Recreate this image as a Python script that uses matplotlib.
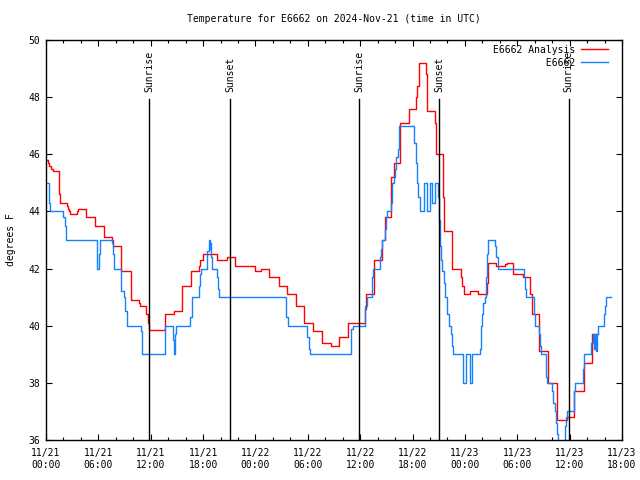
import numpy
import matplotlib
matplotlib.use("Agg")
import matplotlib.pyplot as plt
import matplotlib.transforms as mtransforms

# hours since 2024-11-21 00:00 UTC, temperature in F (step data)
analysisHours = [0.0, 0.2, 0.4, 0.6, 0.8, 1.5, 1.6, 2.4, 2.5, 2.6, 2.75, 3.55, 3.7, 4.55, 5.65,
	6.7, 7.55, 7.7, 8.6, 9.7, 10.6, 10.75, 11.45, 11.65, 11.75, 13.65, 14.65, 15.6, 16.6, 17.5,
	17.7, 18.0, 19.6, 20.7, 21.6, 23.9, 24.6, 25.6, 26.65, 27.65, 28.6, 29.6, 30.65, 31.65,
	32.6, 33.6, 34.65, 36.6, 36.7, 37.6, 38.45, 38.85, 39.5, 39.9, 40.6, 41.55, 42.35, 42.5,
	42.7, 43.5, 43.6, 44.6, 44.7, 45.5, 45.65, 46.55, 47.5, 47.7, 47.85, 48.6, 49.5, 50.55,
	50.65, 51.55, 52.6, 52.8, 53.55, 54.7, 55.5, 55.7, 56.5, 57.55, 58.5, 59.65, 60.5, 61.6,
	62.6, 63.2]
analysisTemp = [45.8, 45.7, 45.6, 45.5, 45.4, 44.6, 44.3, 44.2, 44.1, 44.0, 43.9, 44.0, 44.1,
	43.8, 43.5, 43.1, 43.0, 42.8, 41.9, 40.9, 40.8, 40.7, 40.4, 40.1, 39.85, 40.4, 40.5, 41.4,
	41.9, 42.1, 42.3, 42.5, 42.3, 42.4, 42.1, 41.9, 42.0, 41.7, 41.4, 41.1, 40.7, 40.1, 39.8,
	39.4, 39.3, 39.6, 40.1, 40.6, 41.1, 42.3, 43.0, 43.8, 45.2, 45.7, 47.1, 47.6, 48.0, 48.4,
	49.2, 48.8, 47.5, 47.1, 46.0, 44.5, 43.3, 42.0, 41.7, 41.4, 41.1, 41.2, 41.1, 41.5, 42.2,
	42.1, 42.15, 42.2, 41.8, 41.7, 41.1, 40.4, 39.1, 38.0, 36.7, 36.8, 37.7, 38.7, 39.7, 39.7]

obsHours = [0.0, 0.3, 0.4, 0.5, 2.0, 2.15, 2.3, 5.8, 5.9, 6.05, 6.15, 7.55, 7.65, 7.75, 8.55,
	8.65, 8.9, 9.1, 9.25, 10.85, 10.95, 11.05, 13.6, 14.55, 14.65, 14.8, 14.9, 16.55, 16.7,
	17.5, 17.65, 17.8, 18.5, 18.65, 18.75, 18.8, 18.9, 19.0, 19.6, 19.7, 19.8, 27.55, 27.7,
	29.95, 30.1, 30.25, 34.9, 35.2, 36.5, 36.75, 37.3, 37.4, 37.5, 38.25, 38.35, 38.5, 38.85,
	38.95, 39.05, 39.5, 39.6, 39.7, 39.85, 40.0, 40.15, 40.3, 40.4, 40.5, 42.2, 42.35, 42.5,
	42.65, 42.85, 43.3, 43.6, 44.0, 44.25, 44.6, 44.95, 45.0, 45.1, 45.2, 45.3, 45.4, 45.55,
	45.7, 45.9, 46.0, 46.2, 46.35, 46.5, 46.65, 47.8, 48.1, 48.55, 48.85, 49.7, 49.8, 49.9,
	50.0, 50.1, 50.25, 50.45, 50.55, 50.7, 51.5, 51.6, 51.75, 54.75, 54.85, 55.0, 55.9, 56.0,
	56.45, 56.55, 56.7, 57.3, 57.45, 58.0, 58.15, 58.3, 58.45, 58.55, 58.7, 59.35, 59.45,
	59.55, 59.7, 60.45, 60.6, 61.5, 61.65, 62.5, 62.65, 62.8, 62.9, 63.0, 63.1, 63.3, 63.9,
	64.05, 64.2, 64.75]
obsTemp = [45.0, 44.7, 44.3, 44.0, 43.8, 43.5, 43.0, 42.3, 42.0, 42.5, 43.0, 42.9, 42.5, 42.0,
	41.8, 41.2, 41.0, 40.5, 40.0, 39.8, 39.4, 39.0, 40.0, 39.5, 39.0, 39.7, 40.0, 40.3, 41.0,
	41.4, 41.8, 42.0, 42.6, 43.0, 42.7, 42.9, 42.4, 42.0, 41.7, 41.3, 41.0, 40.3, 40.0, 39.6,
	39.2, 39.0, 39.9, 40.0, 40.7, 41.0, 41.3, 41.7, 42.0, 42.4, 42.7, 43.0, 43.4, 43.8, 44.0,
	44.3, 44.5, 45.0, 45.2, 45.5, 45.9, 46.2, 46.6, 47.0, 46.4, 45.7, 45.0, 44.5, 44.0, 45.0,
	44.0, 45.0, 44.3, 45.0, 44.5, 43.7, 43.5, 42.8, 42.3, 41.9, 41.5, 41.0, 40.8, 40.4, 40.0,
	39.7, 39.3, 39.0, 38.0, 39.0, 38.0, 39.0, 39.2, 39.5, 40.0, 40.4, 40.8, 41.0, 41.7, 42.5,
	43.0, 42.8, 42.4, 42.0, 41.7, 41.3, 41.0, 40.4, 40.0, 39.7, 39.3, 39.0, 38.2, 38.0, 37.7,
	37.3, 37.0, 36.6, 36.2, 35.5, 36.0, 36.5, 36.8, 37.0, 37.7, 38.0, 38.5, 39.0, 39.4, 39.7,
	39.2, 39.7, 39.1, 39.7, 40.0, 40.4, 40.7, 41.0, 41.0]

sunriseHours = [11.85, 35.87, 59.88]
sunsetHours = [21.12, 45.08]

seriesNames = ["E6662 Analysis", "E6662"]
tickHours = [0, 6, 12, 18, 24, 30, 36, 42, 48, 54, 60, 66]
tickLabels = ["11/21\n00:00", "11/21\n06:00", "11/21\n12:00", "11/21\n18:00",
	"11/22\n00:00", "11/22\n06:00", "11/22\n12:00", "11/22\n18:00",
	"11/23\n00:00", "11/23\n06:00", "11/23\n12:00", "11/23\n18:00"]
yTicks = [36, 38, 40, 42, 44, 46, 48, 50]


def main():
	plt.rcParams["font.family"] = "DejaVu Sans Mono"
	plt.rcParams["font.size"] = 7

	fig = plt.figure(figsize = (6.4, 4.8), dpi = 100)
	ax = fig.add_axes([46/640., 40/480., 576/640., 400/480.])

	# monospace font: pad names so the key text is right-justified like gnuplot
	width = max(len(n) for n in seriesNames)
	keyNames = [n.rjust(width) for n in seriesNames]

	ax.plot(analysisHours, analysisTemp, drawstyle = "steps-post", color = "#ff0000", lw = 1.0, label = keyNames[0])
	ax.plot(obsHours, obsTemp, drawstyle = "steps-post", color = "#1482ff", lw = 1.0, label = keyNames[1])

	trans = mtransforms.blended_transform_factory(ax.transData, ax.transAxes)
	for h in sunriseHours:
		ax.axvline(h, ymin = 0, ymax = 0.8525, color = "black", lw = 1.0)
		ax.text(h, 0.87, "Sunrise", rotation = 90, ha = "center", va = "bottom", transform = trans)
	for h in sunsetHours:
		ax.axvline(h, ymin = 0, ymax = 0.8525, color = "black", lw = 1.0)
		ax.text(h, 0.87, "Sunset", rotation = 90, ha = "center", va = "bottom", transform = trans)

	ax.set_xlim(0, 66)
	ax.set_ylim(36, 50)
	ax.set_xticks(tickHours)
	ax.set_xticklabels(tickLabels)
	ax.set_xticks(numpy.arange(0, 67, 2), minor = True)
	ax.set_yticks(yTicks)
	ax.tick_params(axis = "both", which = "major", direction = "in", length = 4, width = 0.8, top = True, right = True)
	ax.tick_params(axis = "both", which = "minor", direction = "in", length = 2, width = 0.8, top = True, right = True)
	ax.tick_params(axis = "x", which = "major", pad = 6)
	ax.tick_params(axis = "y", which = "major", pad = 4)
	for s in ax.spines.values():
		s.set_linewidth(1.0)

	ax.set_ylabel("degrees F", fontsize = 7)
	ax.yaxis.set_label_coords(-0.052, 0.5)
	ax.set_title("Temperature for E6662 on 2024-Nov-21 (time in UTC)", fontsize = 7, pad = 13)

	ax.legend(loc = "upper right", bbox_to_anchor = (0.985, 1.0), frameon = False, markerfirst = False,
		handlelength = 2.8, handletextpad = 0.6, labelspacing = 0.3, borderpad = 0.0)

	fig.savefig("out.png", dpi = 100)


main()
